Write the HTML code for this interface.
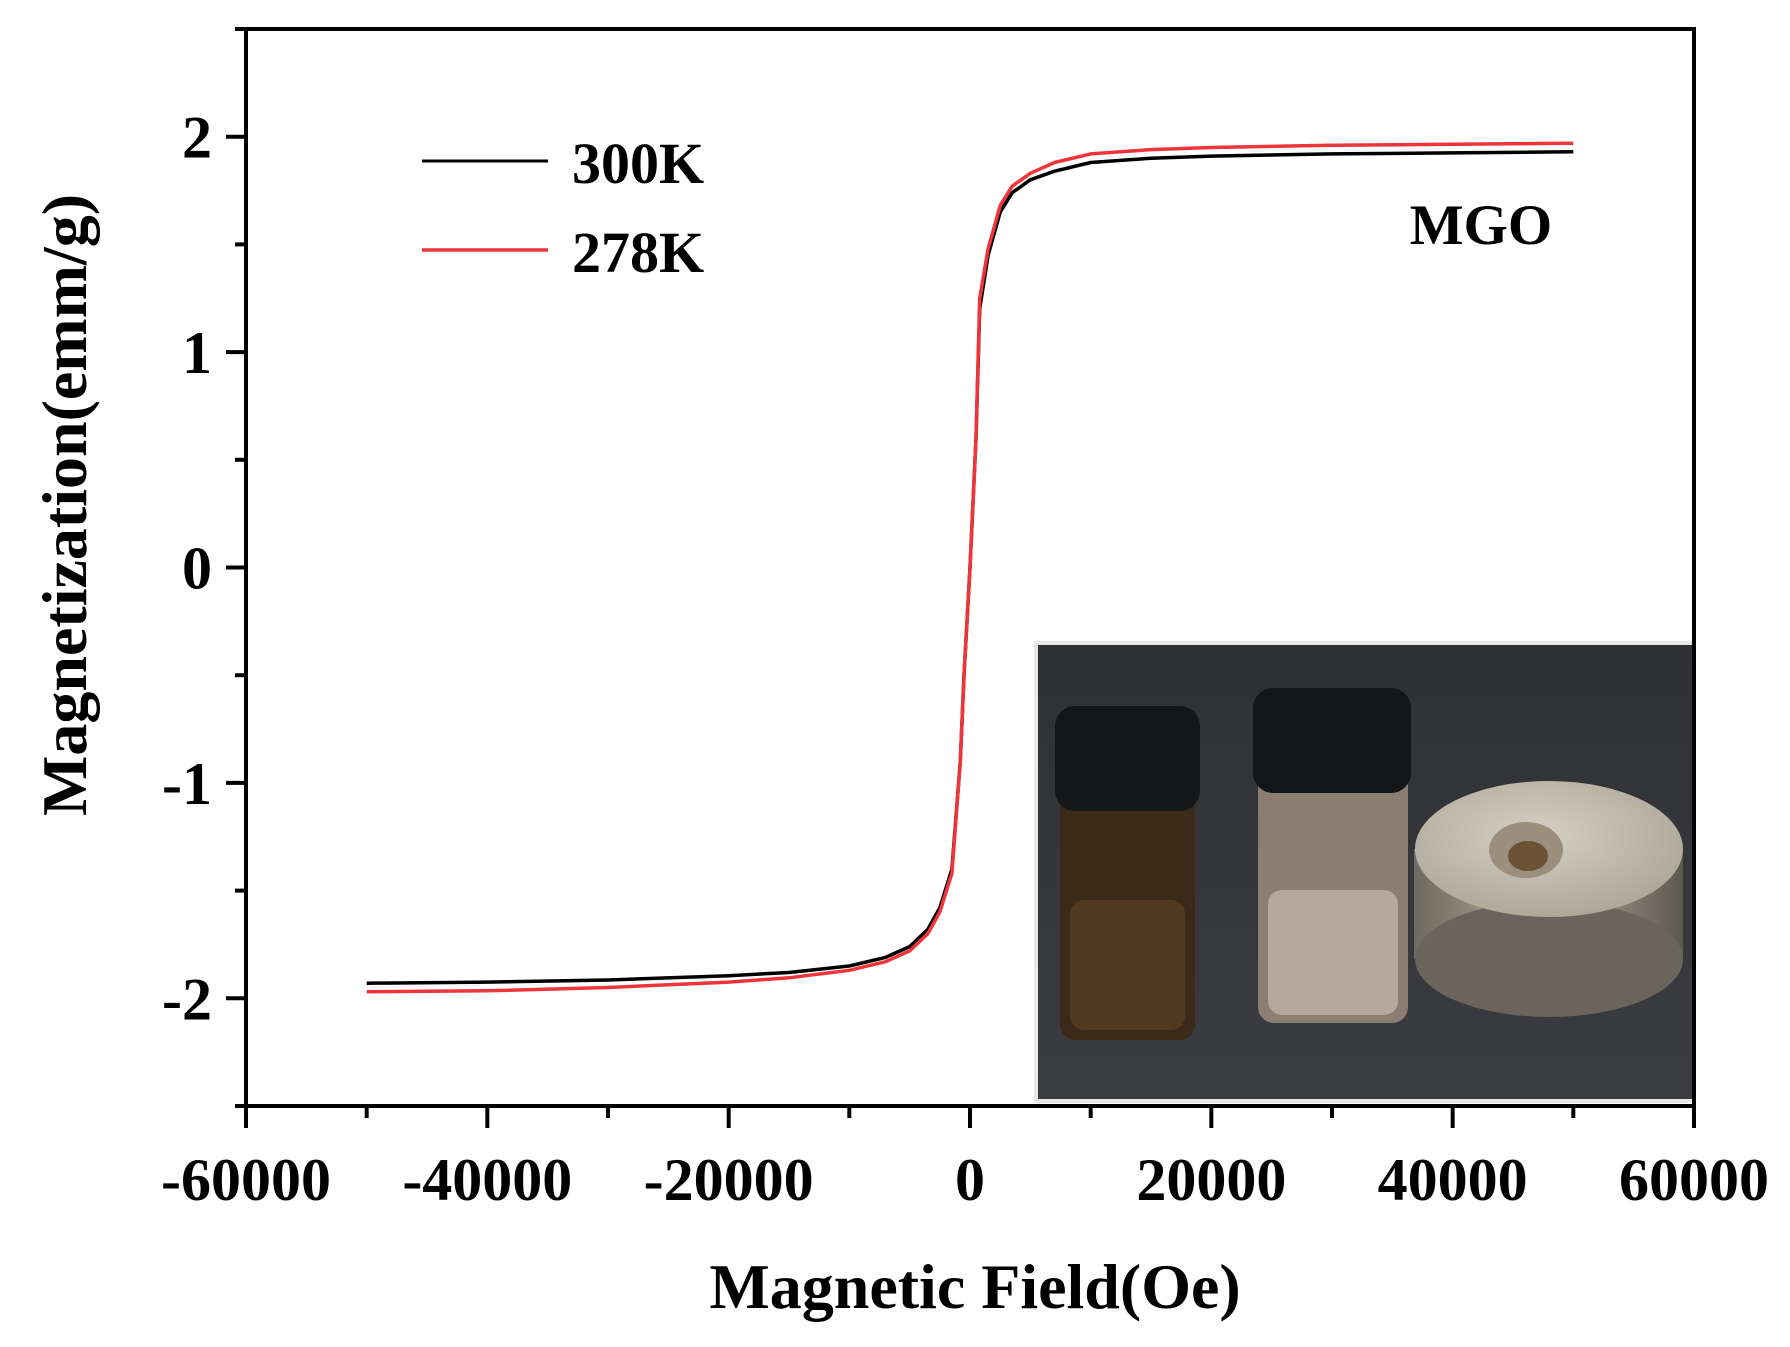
<!DOCTYPE html>
<html><head><meta charset="utf-8"><style>
html,body{margin:0;padding:0;background:#fff;}
svg text{font-family:"Liberation Serif",serif;font-weight:bold;fill:#000;}
</style></head><body>
<svg id="chart" width="1790" height="1342" viewBox="0 0 1790 1342" xmlns="http://www.w3.org/2000/svg">
<defs>
<linearGradient id="bg" x1="0" y1="0" x2="0" y2="1"><stop offset="0" stop-color="#2e3034"/><stop offset="1" stop-color="#3a3c40"/></linearGradient>
<linearGradient id="mag" x1="0" y1="0" x2="1" y2="0"><stop offset="0" stop-color="#6f6a60"/><stop offset="0.5" stop-color="#b8b0a0"/><stop offset="1" stop-color="#5c5850"/></linearGradient>
<radialGradient id="magtop" cx="0.45" cy="0.4" r="0.7"><stop offset="0" stop-color="#d6d0c4"/><stop offset="1" stop-color="#a8a194"/></radialGradient>
</defs>
<g id="inset">
<rect x="1034" y="641" width="662" height="462" fill="#e8e8e8"/>
<rect x="1038" y="645" width="654" height="454" fill="url(#bg)"/>
<rect x="1060" y="760" width="135" height="280" rx="16" fill="#3b2a18"/>
<rect x="1070" y="900" width="115" height="130" rx="14" fill="#5a4123" opacity="0.7"/>
<rect x="1055" y="706" width="145" height="105" rx="20" fill="#151618"/>
<rect x="1258" y="745" width="150" height="278" rx="16" fill="#8a7e72"/>
<rect x="1268" y="890" width="130" height="125" rx="14" fill="#c9bcae" opacity="0.7"/>
<rect x="1253" y="688" width="158" height="105" rx="20" fill="#151618"/>
<g>
<rect x="1414" y="849" width="269" height="110" fill="url(#mag)"/>
<ellipse cx="1549" cy="959" rx="134" ry="58" fill="#6a655c"/>
<ellipse cx="1549" cy="849" rx="134" ry="68" fill="url(#magtop)"/>
<ellipse cx="1526" cy="850" rx="37" ry="28" fill="#9a8e7c"/>
<ellipse cx="1528" cy="856" rx="20" ry="15" fill="#6b5234"/>
</g>
</g>
<g id="axes"></g>
<g id="plot"></g>
<g id="legend">
<line x1="422" y1="161" x2="548" y2="161" stroke="#000" stroke-width="3"/>
<text x="572" y="183" font-size="58">300K</text>
<line x1="422" y1="250" x2="548" y2="250" stroke="#f0353a" stroke-width="3.5"/>
<text x="572" y="272" font-size="58">278K</text>
</g>
<text x="1481" y="244" font-size="57" text-anchor="middle">MGO</text>
<text x="975" y="1308" font-size="64" text-anchor="middle">Magnetic Field(Oe)</text>
<text x="0" y="0" font-size="64" text-anchor="middle" transform="translate(86,505) rotate(-90)">Magnetization(emm/g)</text>
</svg>
<script>
const fieldOe = [-50000,-40000,-30000,-20000,-15000,-10000,-7000,-5000,-3500,-2500,-1500,-800,-500,0,500,800,1500,2500,3500,5000,7000,10000,15000,20000,30000,40000,50000];
const mag300K = [-1.93,-1.925,-1.915,-1.895,-1.88,-1.85,-1.81,-1.76,-1.68,-1.58,-1.40,-0.9,-0.5,0,0.6,1.2,1.45,1.65,1.74,1.80,1.84,1.88,1.90,1.91,1.92,1.925,1.93];
const mag278K = [-1.97,-1.965,-1.95,-1.925,-1.905,-1.87,-1.83,-1.78,-1.70,-1.60,-1.42,-0.9,-0.5,0,0.6,1.25,1.48,1.68,1.77,1.83,1.88,1.92,1.94,1.95,1.96,1.965,1.97];
const xTickValues = [-60000,-40000,-20000,0,20000,40000,60000];
const xTickLabels = ["-60000","-40000","-20000","0","20000","40000","60000"];
const yTickValues = [-2,-1,0,1,2];
const yTickLabels = ["-2","-1","0","1","2"];

const L=246,R=1694,T=29,B=1106;
const xMin=-60000,xMax=60000,yMin=-2.5,yMax=2.5;
const sx=v=>L+(v-xMin)/(xMax-xMin)*(R-L);
const sy=v=>B-(v-yMin)/(yMax-yMin)*(B-T);
const NS='http://www.w3.org/2000/svg';
const axes=document.getElementById('axes'), plot=document.getElementById('plot');
function mk(tag,attrs,parent){const e=document.createElementNS(NS,tag);for(const k in attrs)e.setAttribute(k,attrs[k]);parent.appendChild(e);return e;}

const frame=mk('rect',{x:L,y:T,width:R-L,height:B-T,fill:'none',stroke:'#000','stroke-width':4},axes);



for(let v=xMin; v<=xMax; v+=10000){
  const major = v%20000===0;
  const t=mk('line',{x1:sx(v),x2:sx(v),y1:B,y2:B+(major?22:12),stroke:'#000','stroke-width':4},axes);
  
  
}
xTickValues.forEach((v,i)=>{
  const t=mk('text',{x:sx(v),y:1200,'font-size':60,'text-anchor':'middle'},axes);
  t.textContent=xTickLabels[i];
  
  
});
for(let v=-2.5; v<=2.5001; v+=0.5){
  const major = Math.abs(v-Math.round(v))<1e-6;
  const t=mk('line',{x1:L,x2:L-(major?20:11),y1:sy(v),y2:sy(v),stroke:'#000','stroke-width':4},axes);
  
  
}
yTickValues.forEach((v,i)=>{
  const t=mk('text',{x:212,y:sy(v)+21,'font-size':60,'text-anchor':'end'},axes);
  t.textContent=yTickLabels[i];
  
  
});

function pathFor(ys){return fieldOe.map((x,i)=>(i?'L':'M')+sx(x).toFixed(1)+','+sy(ys[i]).toFixed(1)).join(' ');}
const p1=mk('path',{d:pathFor(mag300K),fill:'none',stroke:'#000','stroke-width':3.5,'stroke-linejoin':'round'},plot);


const p2=mk('path',{d:pathFor(mag278K),fill:'none',stroke:'#f0353a','stroke-width':3.5,'stroke-linejoin':'round'},plot);


</script>
</body></html>
